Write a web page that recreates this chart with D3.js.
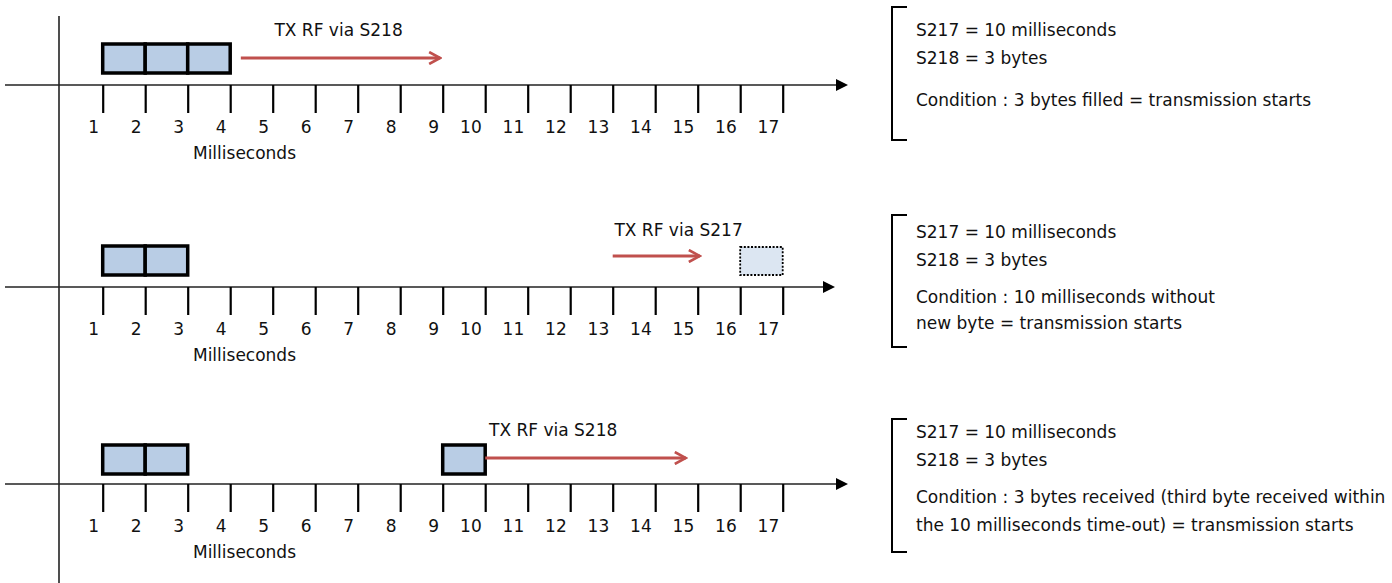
<!DOCTYPE html>
<html lang="en">
<head>
<meta charset="UTF-8">
<title>S217 / S218 timing</title>
<script src="https://cdn.jsdelivr.net/npm/d3@7"></script>
<style>
  body { margin: 0; background: #fff; }
  text { font-family: "DejaVu Sans", sans-serif; font-size: 17px; fill: #111; }
</style>
</head>
<body>
<svg id="chart" width="1392" height="583"></svg>
<script>
// tick labels on each time line (milliseconds)
var tickLabels = [1, 2, 3, 4, 5, 6, 7, 8, 9, 10, 11, 12, 13, 14, 15, 16, 17];

// bytes received, one box per byte, starting at the given millisecond
var byteBoxes = [[1, 2, 3], [1, 2], [1, 2, 9]];
// time-out slot (dotted box), only on the second line
var timeoutBoxes = [null, 16, null];

// red "TX RF" arrows: start / end in milliseconds
var txFrom = [4.25, 13.0, 10.0];
var txTo = [8.94, 15.05, 14.72];
var txLabels = ["TX RF via S218", "TX RF via S217", "TX RF via S218"];
var txLabelAt = [6.55, 14.55, 11.6];

// note text on the right, per line
var notes = [
  ["S217 = 10 milliseconds", "S218 = 3 bytes", "Condition : 3 bytes filled = transmission starts"],
  ["S217 = 10 milliseconds", "S218 = 3 bytes", "Condition : 10 milliseconds without", "new byte = transmission starts"],
  ["S217 = 10 milliseconds", "S218 = 3 bytes", "Condition : 3 bytes received (third byte received within", "the 10 milliseconds time-out) = transmission starts"]
];

// layout (pixels)
var axisY = [85, 287, 484];
var axisEnd = [848, 835, 848];
var boxTop = [44, 246, 445];
var arrowY = [58, 256, 458];
var labelY = [30, 230, 430];
var bracketTop = [7, 215, 419];
var bracketBottom = [140, 347, 552];
var noteY = [[30, 58, 100], [232, 260, 297, 323], [432, 460, 497, 525]];

var svg = d3.select("#chart");
var x = d3.scaleLinear().domain([1, 17]).range([102.7, 782.7]);
var red = "#c0504d";

var defs = svg.append("defs");
defs.append("marker").attr("id", "open").attr("viewBox", "0 0 14 14")
  .attr("refX", 12).attr("refY", 7).attr("markerWidth", 14).attr("markerHeight", 14)
  .attr("markerUnits", "userSpaceOnUse").attr("orient", "auto")
  .append("path").attr("d", "M1,1 L12,7 L1,13").attr("fill", "none")
  .attr("stroke", red).attr("stroke-width", 2.6);

// vertical line at the left
svg.append("line").attr("x1", 59).attr("x2", 59).attr("y1", 16).attr("y2", 583)
  .attr("stroke", "#222").attr("stroke-width", 1.6);

axisY.forEach(function (ay, i) {
  var g = svg.append("g");

  // horizontal time line with filled arrow head
  g.append("line").attr("x1", 5).attr("x2", axisEnd[i] - 10).attr("y1", ay).attr("y2", ay)
    .attr("stroke", "#222").attr("stroke-width", 1.6);
  g.append("path")
    .attr("d", "M" + (axisEnd[i] - 12) + "," + (ay - 6) + " L" + axisEnd[i] + "," + ay + " L" + (axisEnd[i] - 12) + "," + (ay + 6) + "Z")
    .attr("fill", "#000");

  // ticks
  var ax = g.append("g").attr("transform", "translate(0," + ay + ")")
    .call(d3.axisBottom(x).tickValues(tickLabels).tickSize(28).tickFormat(d3.format("d")));
  ax.select(".domain").remove();
  ax.selectAll(".tick line").attr("stroke", "#000").attr("stroke-width", 2.2);
  ax.selectAll(".tick text").attr("y", 42).attr("dy", "0.35em").attr("dx", -4)
    .attr("text-anchor", "end").style("font-size", "17px").attr("fill", "#111")
    .style("font-family", "'DejaVu Sans', sans-serif");

  g.append("text").attr("x", 244.5).attr("y", ay + 68).attr("dy", "0.35em")
    .attr("text-anchor", "middle").text("Milliseconds");

  // byte boxes
  g.selectAll("rect.byte").data(byteBoxes[i]).enter().append("rect")
    .attr("class", "byte")
    .attr("x", function (d) { return x(d); })
    .attr("width", function (d) { return x(d + 1) - x(d); })
    .attr("y", boxTop[i]).attr("height", 29)
    .attr("fill", "#b9cde5").attr("stroke", "#000").attr("stroke-width", 3.5);

  if (timeoutBoxes[i] !== null) {
    var t = timeoutBoxes[i];
    g.append("rect").attr("x", x(t)).attr("width", x(t + 1) - x(t))
      .attr("y", boxTop[i] + 1).attr("height", 28)
      .attr("fill", "#dce6f2").attr("stroke", "#000").attr("stroke-width", 1.8)
      .attr("stroke-dasharray", "2,1.6");
  }

  // red transmit arrow
  g.append("line").attr("x1", x(txFrom[i])).attr("x2", x(txTo[i]))
    .attr("y1", arrowY[i]).attr("y2", arrowY[i])
    .attr("stroke", red).attr("stroke-width", 3).attr("marker-end", "url(#open)");
  g.append("text").attr("x", x(txLabelAt[i])).attr("y", labelY[i]).attr("dy", "0.35em")
    .attr("text-anchor", "middle").text(txLabels[i]);

  // bracket and notes
  g.append("path")
    .attr("d", "M907," + bracketTop[i] + " H892 V" + bracketBottom[i] + " H907")
    .attr("fill", "none").attr("stroke", "#000").attr("stroke-width", 2);
  g.selectAll("text.note").data(notes[i]).enter().append("text")
    .attr("class", "note").attr("x", 916)
    .attr("y", function (d, j) { return noteY[i][j]; }).attr("dy", "0.35em")
    .text(function (d) { return d; });
});
</script>
</body>
</html>
